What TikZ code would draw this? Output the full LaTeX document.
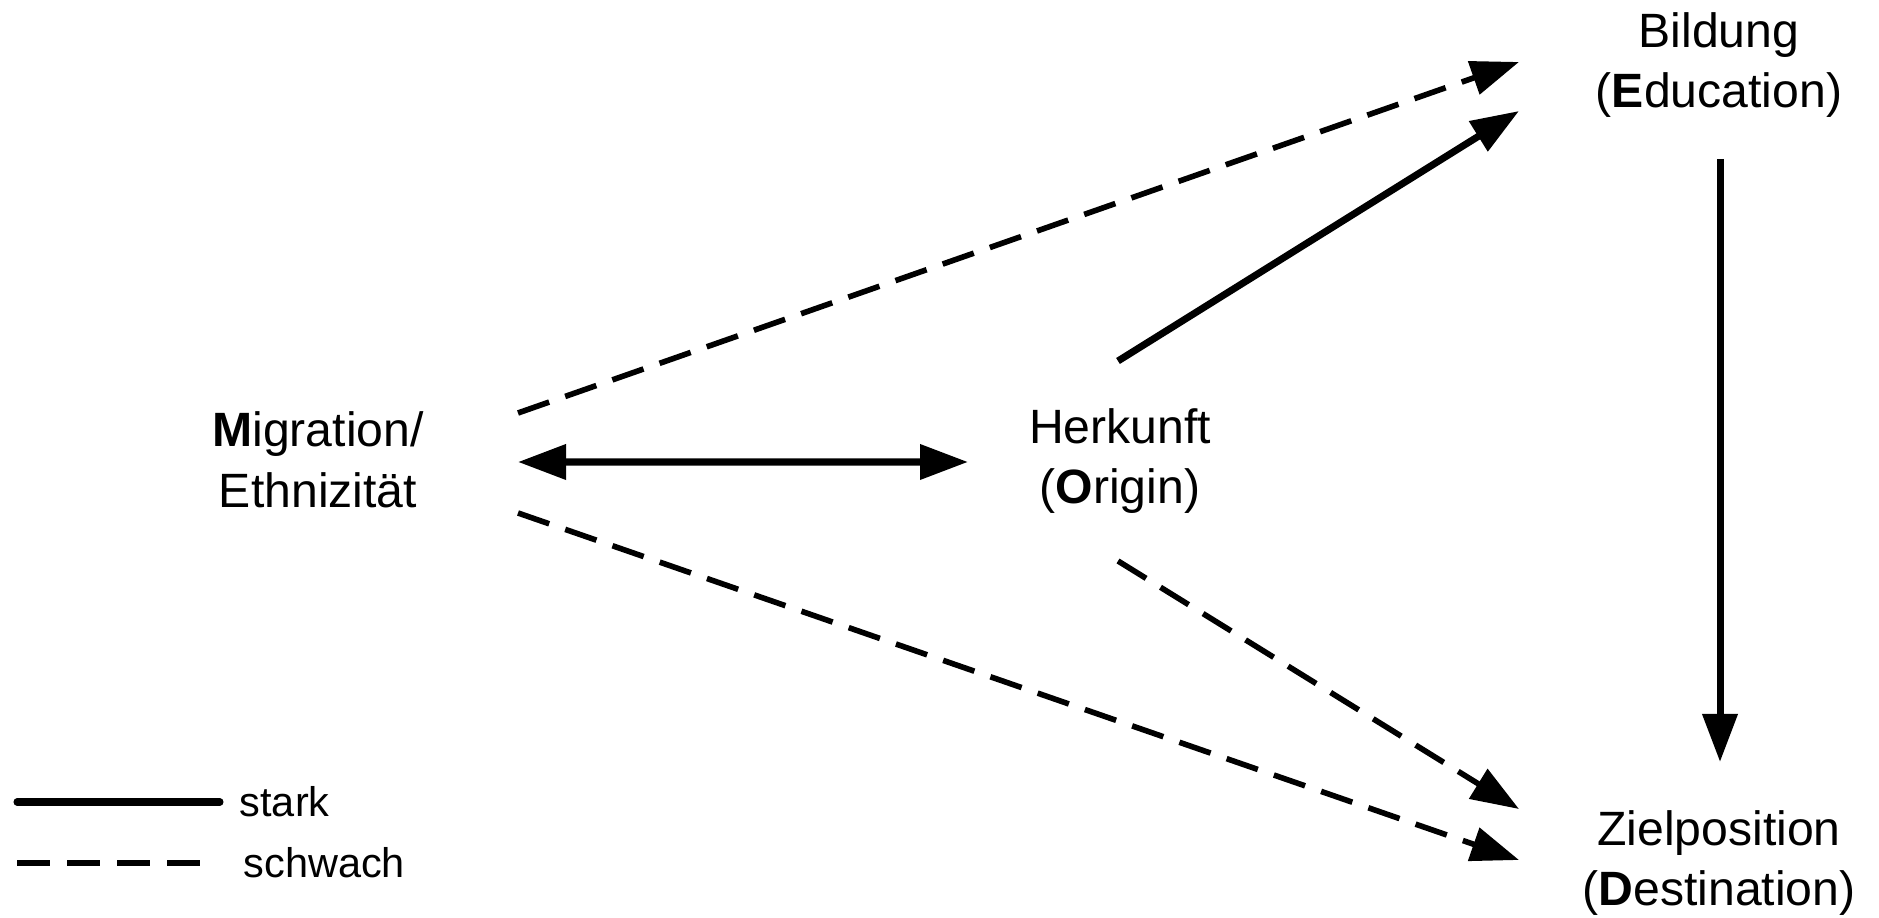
\documentclass[tikz,border=0pt]{standalone}
\usepackage{fontspec}
\setmainfont{Liberation Sans}
\usepackage{tikz}
\usetikzlibrary{arrows.meta,positioning,calc}

\begin{document}
\begin{tikzpicture}[
  >={Triangle[length=0.48cm,width=0.34cm]},
  every node/.style={font=\fontsize{13.7pt}{17.2pt}\selectfont},
  var/.style={align=center,inner sep=0pt},
  leg/.style={font=\fontsize{11.8pt}{14pt}\selectfont,anchor=west,inner sep=0pt},
  strong/.style={line width=2pt},
  weak/.style={line width=1.6pt,dash pattern=on 0.33cm off 0.17cm}
]
\useasboundingbox (0,0) rectangle (18.79,9.18);

% variables
\node[var] (mig)  at (3.18,4.58)  {\textbf{M}igration/\\Ethnizität};
\node[var] (orig) at (11.20,4.57) {Herkunft\\(\textbf{O}rigin)};
\node[var] (edu)  at (17.19,8.53) {Bildung\\(\textbf{E}ducation)};
\node[var] (ziel) at (17.19,0.55) {Zielposition\\(\textbf{D}estination)};

% effects
\draw[strong,<->] ($(mig)+(2.00,-0.02)$) -- ($(orig)+(-1.52,-0.01)$);
\draw[weak,->]   ($(mig)+(2.00,0.47)$)   -- ($(edu)+(-2.00,0.03)$);
\draw[strong,->] ($(orig)+(-0.02,1.00)$) -- ($(edu)+(-2.00,-0.46)$);
\draw[strong,->] ($(edu)+(0.01,-0.94)$)  -- ($(ziel)+(0.01,1.01)$);
\draw[weak,->]   ($(orig)+(-0.02,-1.00)$) -- ($(ziel)+(-2.00,0.54)$);
\draw[weak,->]   ($(mig)+(2.00,-0.53)$)  -- ($(ziel)+(-2.00,0.03)$);

% legend
\node[leg] (stark)   at (2.39,1.16) {stark};
\node[leg] (schwach) at (2.43,0.55) {schwach};
\coordinate (l1) at (0.17,1.16);
\coordinate (l2) at (0.17,0.55);
\draw[strong,line cap=round] (l1) -- ($(stark.west)+(-0.19,0)$);
\draw[weak] (l2) -- ($(schwach.west)+(-0.41,0)$);
\end{tikzpicture}
\end{document}
